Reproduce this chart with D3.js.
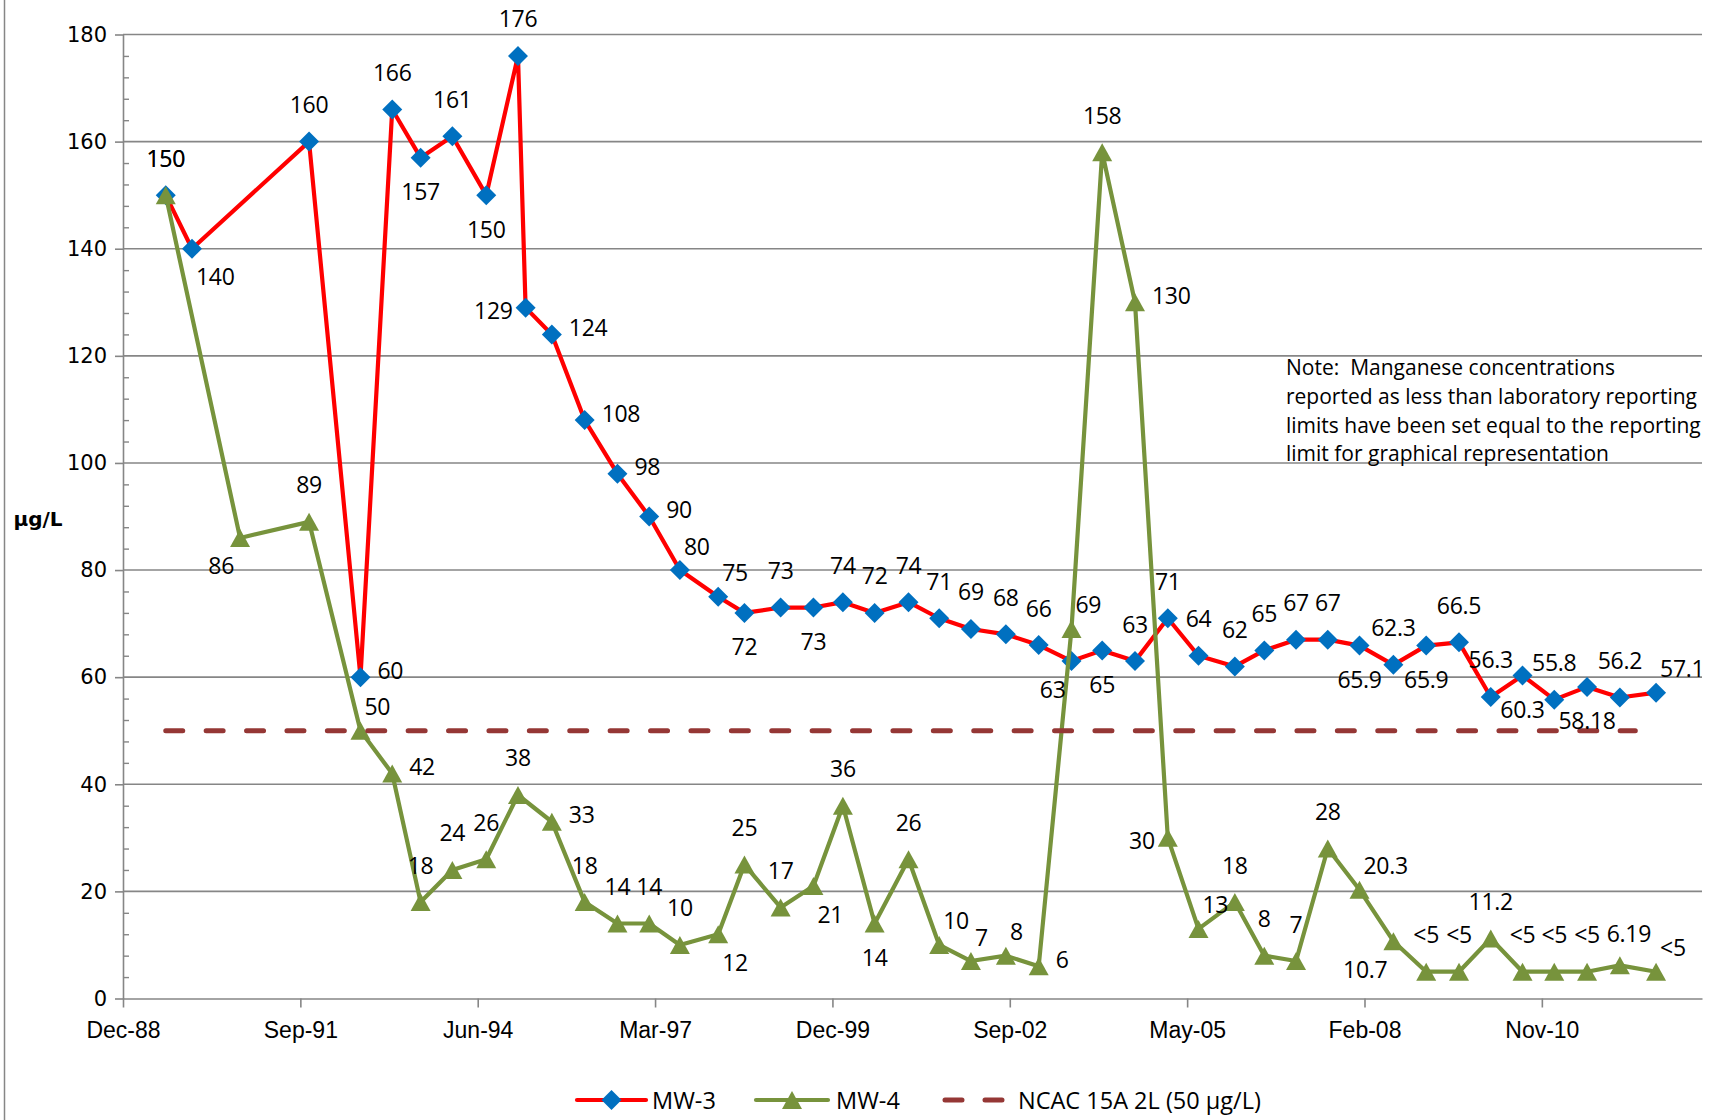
<!DOCTYPE html>
<html>
<head>
<meta charset="utf-8">
<script src="https://cdn.jsdelivr.net/npm/d3@7"></script>
<style>
  html, body { margin: 0; padding: 0; background: #fff; }
  svg { display: block; font-family: "Open Sans", sans-serif; }
  .note { white-space: pre; }
</style>
</head>
<body>
<svg id="chart" width="1716" height="1120"></svg>
<script>
// Sampling dates shared by both wells (null value = well not sampled that round)
const sampleDates = [
  "1989-08-21","1990-01-16","1990-10-14","1991-11-07","1992-08-23","1993-02-18","1993-07-28","1994-01-23","1994-08-02","1995-01-28",
  "1995-03-12","1995-08-07","1996-02-08","1996-08-11","1997-02-06","1997-07-29","1998-03-02","1998-07-28","1999-02-17","1999-08-21",
  "2000-02-03","2000-07-31","2001-02-07","2001-07-30","2002-01-25","2002-08-10","2003-02-11","2003-08-15","2004-02-04","2004-08-07",
  "2005-02-08","2005-07-31","2006-02-21","2006-08-06","2007-02-01","2007-07-30","2008-01-25","2008-08-03","2009-02-04","2009-08-08",
  "2010-02-03","2010-08-01","2011-01-27","2011-07-31","2012-02-01","2012-08-23"
];

// Manganese, µg/L
const mw3Values = [
  150, 140, null, 160, 60, 166, 157, 161, 150, 176,
  129, 124, 108, 98, 90, 80, 75, 72, 73, 73,
  74, 72, 74, 71, 69, 68, 66, 63, 65, 63,
  71, 64, 62, 65, 67, 67, 65.9, 62.3, 65.9, 66.5,
  56.3, 60.3, 55.8, 58.18, 56.2, 57.1
];
const mw4Values = [
  150, null, 86, 89, 50, 42, 18, 24, 26, 38,
  null, 33, 18, 14, 14, 10, 12, 25, 17, 21,
  36, 14, 26, 10, 7, 8, 6, 69, 158, 130,
  30, 13, 18, 8, 7, 28, 20.3, 10.7, 5, 5,
  11.2, 5, 5, 5, 6.19, 5
];
// MW-4 results reported below the laboratory reporting limit
const mw4NonDetectDates = ["2009-02-04","2009-08-08","2010-08-01","2011-01-27","2011-07-31","2012-08-23"];

// Which side of its marker each data label sits on
const mw3LabelSide = [
  "t","br",null,"t","r","t","b","t","b","t",
  "l","r","r","r","r","tr","tr","b","t","b",
  "t","t","t","t","t","t","t","bl","b","t",
  "t","t","t","t","t","t","b","t","b","t",
  "t","b","t","b","t","tr"
];
const mw4LabelSide = [
  "t",null,"bl","t","tr","r","t","t","t","t",
  null,"r","t","t","t","t","br","t","t","br",
  "t","b","t","tr","tr","tr","r","tr","t","r",
  "l","tr","t","t","t","t","tr","bl","t","t",
  "t","t","t","t","tn","tr"
];

// Groundwater standard
const standardValue = 50;
const standardDates = ["1989-08-21", "2012-04-28"];

const yTicks = [0, 20, 40, 60, 80, 100, 120, 140, 160, 180];
const xAxisStart = "1988-12-23";
const xAxisSpanDays = 8903;
const xTickStepDays = 1000;
const xTickLabels = ["Dec-88","Sep-91","Jun-94","Mar-97","Dec-99","Sep-02","May-05","Feb-08","Nov-10"];

const seriesNames = ["MW-3", "MW-4", "NCAC 15A 2L (50 µg/L)"];
const yTitle = "µg/L";
const noteLines = [
  "Note:  Manganese concentrations",
  "reported as less than laboratory reporting",
  "limits have been set equal to the reporting",
  "limit for graphical representation"
];

// ---------------------------------------------------------------
const svg = d3.select("#chart");
const plot = { left: 123, right: 1702, top: 34.5, bottom: 998.5 };
const colors = { mw3: "#FF0000", mw3Marker: "#0070C0", mw4: "#77933C", std: "#953735", axis: "#868686" };
const parse = d3.utcParse("%Y-%m-%d");

const start = parse(xAxisStart);
const x = d3.scaleUtc()
  .domain([start, d3.utcDay.offset(start, xAxisSpanDays)])
  .range([plot.left, plot.right]);
const y = d3.scaleLinear().domain([0, 180]).range([plot.bottom, plot.top]);

const dates = sampleDates.map(parse);
const nonDetect = new Set(mw4NonDetectDates);

function series(values, sides) {
  return values.map((v, i) => ({ date: dates[i], key: sampleDates[i], value: v, side: sides[i] }))
               .filter(d => d.value !== null);
}
const mw3 = series(mw3Values, mw3LabelSide);
const mw4 = series(mw4Values, mw4LabelSide);

// chart frame edge on the left
svg.append("line").attr("x1", 4.5).attr("x2", 4.5).attr("y1", 0).attr("y2", 1120)
  .attr("stroke", colors.axis).attr("stroke-width", 1.5);

// horizontal gridlines
svg.append("g").selectAll("line").data(yTicks.filter(t => t > 0)).join("line")
  .attr("x1", plot.left).attr("x2", plot.right)
  .attr("y1", d => y(d)).attr("y2", d => y(d))
  .attr("stroke", colors.axis).attr("stroke-width", 1.6);

// y axis: major ticks outside with labels, minor ticks inside
const yAxis = svg.append("g").attr("transform", `translate(${plot.left},0)`)
  .call(d3.axisLeft(y).tickValues(yTicks).tickSize(8).tickSizeOuter(0).tickPadding(8));
yAxis.selectAll("path, line").attr("stroke", colors.axis).attr("stroke-width", 1.6);
yAxis.selectAll("text").attr("font-family", "DejaVu Sans").attr("font-size", 21).attr("fill", "#000");

const minorTicks = d3.range(0, 181, 4).filter(v => v % 20 !== 0);
const yMinor = svg.append("g").attr("transform", `translate(${plot.left},0)`)
  .call(d3.axisRight(y).tickValues(minorTicks).tickSize(6).tickFormat(""));
yMinor.select("path").remove();
yMinor.selectAll("line").attr("stroke", colors.axis).attr("stroke-width", 1.4);

// x axis with 1000-day major unit
const xTickValues = xTickLabels.map((_, k) => d3.utcDay.offset(start, k * xTickStepDays));
const xAxis = svg.append("g").attr("transform", `translate(0,${plot.bottom})`)
  .call(d3.axisBottom(x).tickValues(xTickValues).tickSize(9).tickSizeOuter(0).tickPadding(14)
    .tickFormat((d, i) => xTickLabels[i]));
xAxis.selectAll("path, line").attr("stroke", colors.axis).attr("stroke-width", 1.6);
xAxis.selectAll("text").attr("font-size", 23).attr("fill", "#000");

// axis title
svg.append("text").attr("x", 38).attr("y", 526).attr("text-anchor", "middle")
  .attr("font-family", "DejaVu Sans").attr("font-weight", "bold").attr("font-size", 20)
  .text(yTitle);

// lines
const line = d3.line().x(d => x(d.date)).y(d => y(d.value));
const diamond = r => `M0,${-r}L${r},0L0,${r}L${-r},0Z`;
const triangle = (w, h) => `M0,${-h / 2}L${w / 2},${h / 2}L${-w / 2},${h / 2}Z`;

svg.append("path").datum(mw3).attr("d", line)
  .attr("fill", "none").attr("stroke", colors.mw3).attr("stroke-width", 4.2)
  .attr("stroke-linejoin", "round");
svg.append("g").selectAll("path").data(mw3).join("path")
  .attr("transform", d => `translate(${x(d.date)},${y(d.value)})`)
  .attr("d", diamond(10)).attr("fill", colors.mw3Marker);

svg.append("path").datum(mw4).attr("d", line)
  .attr("fill", "none").attr("stroke", colors.mw4).attr("stroke-width", 4.2)
  .attr("stroke-linejoin", "round");
svg.append("g").selectAll("path").data(mw4).join("path")
  .attr("transform", d => `translate(${x(d.date)},${y(d.value)})`)
  .attr("d", triangle(20, 18)).attr("fill", colors.mw4);

// standard (dashed)
const stdData = standardDates.map(s => ({ date: parse(s), value: standardValue }));
svg.append("path").datum(stdData).attr("d", line)
  .attr("fill", "none").attr("stroke", colors.std).attr("stroke-width", 5)
  .attr("stroke-linecap", "round").attr("stroke-dasharray", "17,23.4");

// data labels
const sides = {
  t:  { dx: 0,   dy: -37, anchor: "middle" },
  tn: { dx: 9,   dy: -32, anchor: "middle" },
  b:  { dx: 0,   dy: 34,  anchor: "middle" },
  r:  { dx: 17,  dy: -7,  anchor: "start" },
  l:  { dx: -13, dy: 3,   anchor: "end" },
  tr: { dx: 4,   dy: -24, anchor: "start" },
  br: { dx: 4,   dy: 28,  anchor: "start" },
  bl: { dx: -6,  dy: 28,  anchor: "end" }
};
function labels(data, textOf) {
  svg.append("g").selectAll("text").data(data).join("text")
    .attr("x", d => x(d.date) + sides[d.side].dx)
    .attr("y", d => y(d.value) + sides[d.side].dy + 8.5)
    .attr("text-anchor", d => sides[d.side].anchor)
    .attr("font-size", 23).attr("letter-spacing", -0.3).attr("fill", "#000")
    .text(textOf);
}
labels(mw3, d => String(d.value));
labels(mw4, d => (nonDetect.has(d.key) ? "<" : "") + d.value);

// note
svg.append("g").selectAll("text").data(noteLines).join("text")
  .attr("class", "note")
  .attr("x", 1286).attr("y", (d, i) => 375 + i * 28.8)
  .attr("font-size", 21).attr("fill", "#000")
  .text(d => d);

// legend
const ly = 1100;
const legend = svg.append("g");
legend.append("line").attr("x1", 577).attr("x2", 646).attr("y1", ly).attr("y2", ly)
  .attr("stroke", colors.mw3).attr("stroke-width", 4.2).attr("stroke-linecap", "round");
legend.append("path").attr("transform", `translate(611.5,${ly})`).attr("d", diamond(10)).attr("fill", colors.mw3Marker);
legend.append("line").attr("x1", 756).attr("x2", 828).attr("y1", ly).attr("y2", ly)
  .attr("stroke", colors.mw4).attr("stroke-width", 4.2).attr("stroke-linecap", "round");
legend.append("path").attr("transform", `translate(792,${ly})`).attr("d", triangle(20, 18)).attr("fill", colors.mw4);
legend.append("line").attr("x1", 945).attr("x2", 1005).attr("y1", ly).attr("y2", ly)
  .attr("stroke", colors.std).attr("stroke-width", 5).attr("stroke-linecap", "round")
  .attr("stroke-dasharray", "17,23");
legend.selectAll("text.lbl").data(seriesNames).join("text").attr("class", "lbl")
  .attr("x", (d, i) => [652, 836, 1018][i]).attr("y", ly + 8.5)
  .attr("font-size", 23.5).attr("fill", "#000")
  .text(d => d);
</script>
</body>
</html>
